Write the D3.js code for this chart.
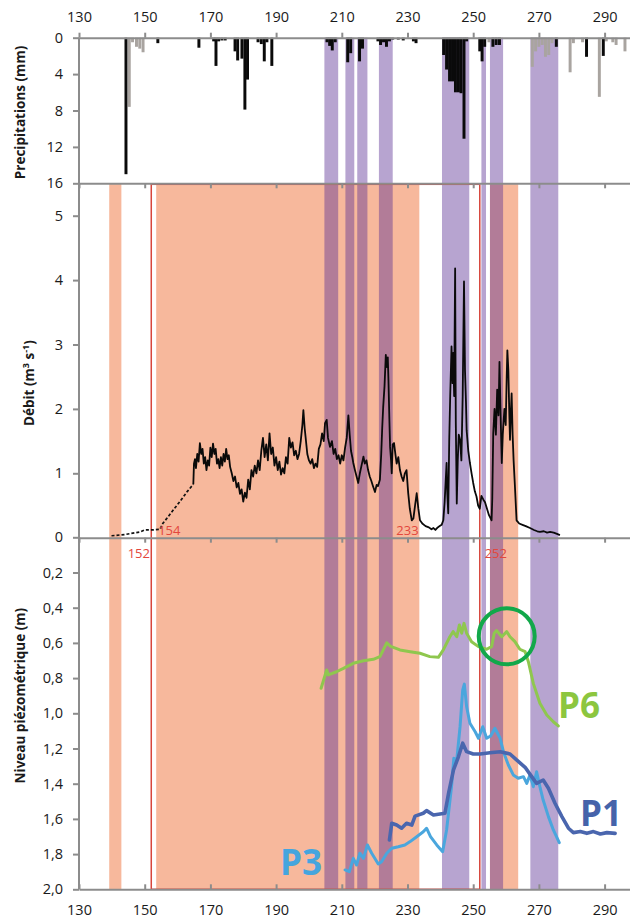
<!DOCTYPE html>
<html><head><meta charset="utf-8">
<script src="https://cdn.jsdelivr.net/npm/d3@7"></script>
<style>
html,body{margin:0;padding:0;background:#fff;}
svg{display:block;font-family:"Open Sans",sans-serif;}
</style></head>
<body><svg id="chart" width="630" height="920"></svg>
<script>
// ---------- DATA ----------
const xTicks = [130,150,170,190,210,230,250,270,290];
const precipTicks = [0,4,8,12,16];
const debitTicks = [1,2,3,4,5];
const niveauTicks = [0,0.2,0.4,0.6,0.8,1.0,1.2,1.4,1.6,1.8,2.0];

// precipitation bars [day, mm]
const precipBlack = [[144.3,15.0],[154,0.6],[166.5,1.1],[171,0.4],[171.7,3.1],[172.5,0.4],[173.5,0.3],[174.5,0.3],
 [177.5,1.5],[178.3,2.5],[179.6,2.3],[180.5,7.9],[181.3,4.6],[184.5,0.5],[185.5,0.7],[186.4,2.6],[187.2,0.5],[188.7,3.1],
 [205.5,0.5],[206.3,0.9],[207.1,1.4],[208,0.5],[211.8,2.7],[212.7,1.7],[215.4,2.6],[216.3,1.2],
 [221,0.4],[221.8,0.8],[222.7,0.5],[223.6,1.0],[224.5,0.4],[225.5,0.2],[227.2,0.2],[228.7,0.3],[231.8,0.4],[232.6,0.6],
 [241,1.9],[241.9,3.5],[242.8,4.8],[243.7,4.8],[244.6,6.0],[245.5,6.0],[246.3,6.1],[247.2,11.1],[248,0.4],
 [252,1.5],[252.7,2.6],[253.5,1.0],[256,1.0],[257,0.8],[258,0.8],[275.3,1.0],[284.5,2.1],[289.6,2.0]];
const precipGray = [[145.3,7.6],[146.3,0.5],[147.5,1.0],[148.5,1.2],[149.5,1.6],[254.8,0.5],
 [268,3.2],[269,1.5],[270,1.0],[271,0.8],[272,2.1],[273,1.9],[274,0.6],[279.5,3.8],[280.5,0.6],[283.3,0.5],
 [288.4,6.5],[290.5,0.4],[292.5,0.5],[293.5,0.8],[296.2,1.5]];

// highlighted periods [startDay, endDay]
const orangeBands = [[139.2,142.9],[153.5,233.6],[255.1,263.7]];
const purpleBands = [[204.7,208.9],[211.1,213.8],[214.7,217.8],[221.3,225.5],[240.5,248.8],[252.5,253.9],[255.1,259.1],[267.4,275.9]];
const redBox = [152,252];

// discharge (m3/s) [day, value]
const debitDashed = [[139.9,0.03],[144,0.05],[148.6,0.09],[150,0.12],[152,0.12],[154.7,0.13],[155.5,0.22],[157.2,0.33],[159,0.45],[161,0.58],[163,0.72],[164.8,0.83]];
const debitSolid = [[164.8,0.83],[165.0,1.15],[165.3,1.22],[165.6,1.08],[166.0,1.30],[166.4,1.18],[166.8,1.47],[167.2,1.30],[167.6,1.38],[168.0,1.15],
 [168.4,1.25],[168.8,1.05],[169.2,1.20],[169.6,1.12],[170.0,1.40],[170.4,1.25],[170.8,1.46],[171.2,1.30],[171.6,1.38],[172.0,1.15],
 [172.4,1.22],[172.8,1.08],[173.2,1.25],[173.6,1.12],[174.0,1.30],[174.4,1.18],[174.8,1.38],[175.2,1.22],[175.6,1.28],[176.0,1.10],
 [176.5,1.00],[177.0,0.88],[177.5,0.95],[178.0,0.78],[178.5,0.85],[179.0,0.68],[179.5,0.75],[180.0,0.56],[180.5,0.70],[181.0,0.62],
 [181.5,0.90],[182.0,0.75],[182.5,1.05],[183.0,0.95],[183.5,1.12],[184.0,1.00],[184.5,1.20],[185.0,1.05],[185.5,1.35],[186.0,1.55],
 [186.5,1.25],[187.0,1.45],[187.5,1.20],[188.0,1.62],[188.5,1.30],[189.0,1.40],[189.5,1.12],[190.0,1.25],[190.5,1.05],[191.0,1.18],
 [191.5,0.98],[192.0,1.08],[192.5,1.00],[193.0,1.25],[193.5,1.15],[194.0,1.55],[194.5,1.40],[195.0,1.48],[195.5,1.28],[196.0,1.35],
 [196.5,1.22],[197.0,1.30],[197.5,1.50],[198.0,1.75],[198.3,1.98],[198.7,1.70],[199.0,1.55],[199.5,1.30],[200.0,1.20],[200.5,1.15],
 [201.0,1.22],[201.5,1.08],[202.0,1.15],[202.5,1.10],[203.0,1.38],[203.5,1.45],[204.0,1.62],[204.5,1.50],[204.9,1.78],[205.4,1.83],
 [205.8,1.55],[206.4,1.41],[207.0,1.50],[207.5,1.30],[208.0,1.38],[208.5,1.22],[209.0,1.28],[209.5,1.15],[210.0,1.28],[210.5,1.20],
 [211.0,1.40],[211.5,1.55],[212.0,1.90],[212.4,1.60],[212.8,1.35],[213.2,1.25],[213.5,1.16],[214.0,1.05],[214.5,0.95],[215.0,0.85],
 [215.5,1.00],[216.0,1.12],[216.6,1.26],[217.0,1.15],[217.5,1.20],[218.0,1.05],[218.5,0.95],[219.0,0.88],[219.5,0.80],[220.1,0.71],
 [220.6,0.82],[221.0,0.80],[221.6,0.90],[222.0,1.30],[222.3,1.70],[222.6,2.03],[223.0,2.35],[223.4,2.84],[223.7,2.65],[224.0,2.80],
 [224.2,2.45],[224.5,1.80],[224.7,1.41],[225.0,1.20],[225.2,1.00],[225.5,1.45],[225.9,1.47],[226.3,1.30],[226.7,1.15],[227.2,1.25],
 [227.7,1.05],[228.2,0.95],[228.7,0.88],[229.2,1.00],[229.7,1.05],[230.2,0.70],[230.7,0.45],[231.3,0.27],[231.8,0.30],[232.3,0.50],
 [232.8,0.69],[233.3,0.45],[233.8,0.27],[234.5,0.22],[235.5,0.18],[236.5,0.16],[237.3,0.13],[237.9,0.15],[238.5,0.12],[239.2,0.16],
 [239.8,0.18],[240.4,0.20],[240.9,0.27],[241.3,0.55],[241.9,1.16],[242.1,0.70],[242.4,0.38],[242.7,1.50],[243.0,2.20],[243.4,2.97],
 [243.7,2.40],[243.9,2.87],[244.2,2.20],[244.5,4.18],[244.7,1.80],[245.0,0.53],[245.3,1.20],[245.6,1.60],[246.0,1.52],[246.4,1.20],
 [246.8,2.20],[247.2,3.98],[247.5,2.60],[247.8,2.10],[248.0,1.67],[248.5,1.35],[249.0,1.16],[249.5,1.00],[250.0,0.85],[250.5,0.72],
 [251.0,0.64],[251.5,0.50],[252.0,0.45],[252.5,0.65],[253.1,0.59],[253.6,0.55],[254.2,0.45],[254.8,0.35],[255.3,0.30],[255.6,0.27],
 [255.8,0.60],[256.1,1.62],[256.5,2.00],[256.9,1.60],[257.3,2.30],[257.7,1.90],[258.0,2.73],[258.3,2.00],[258.7,1.16],[259.0,1.60],
 [259.5,2.00],[259.9,1.75],[260.2,2.50],[260.4,2.91],[260.7,2.60],[261.0,1.90],[261.2,1.52],[261.5,2.00],[261.7,2.24],[262.0,1.60],
 [262.3,1.20],[262.7,0.80],[263.2,0.27],[264,0.22],[265,0.20],[266,0.18],[267.3,0.15],[268.5,0.12],[269.5,0.10],[270.3,0.09],
 [271.5,0.10],[272.5,0.08],[273.4,0.09],[274.5,0.08],[275.5,0.06],[276.4,0.04]];

// piezometric levels (m) [day, level]
const p6 = [[203.7,0.858],[205.4,0.754],[205.9,0.782],[208.4,0.764],[210.5,0.745],[213.5,0.716],[216.6,0.701],[219.6,0.693],[221.6,0.678],
 [223.7,0.599],[224.7,0.618],[227.7,0.640],[230.8,0.650],[233.8,0.659],[236.8,0.678],[239.4,0.682],[240.9,0.640],[242.9,0.565],[243.9,0.536],
 [245.0,0.565],[245.8,0.498],[246.5,0.545],[247.2,0.489],[248.0,0.545],[249.5,0.593],[251.6,0.621],[254.1,0.636],[255.6,0.621],[256.4,0.545],
 [257.1,0.530],[258.7,0.565],[260.2,0.536],[261.2,0.565],[262.7,0.593],[264.2,0.636],[265.8,0.650],[266.8,0.707],[268.3,0.830],[270.3,0.943],
 [272.4,1.010],[274.4,1.048],[275.9,1.072]];
const p1 = [[224.5,1.720],[225.2,1.625],[226.7,1.635],[228.2,1.653],[229.7,1.625],[231.3,1.635],[232.3,1.584],[234.8,1.568],[235.8,1.553],
 [237.9,1.578],[241.4,1.568],[242.5,1.455],[244.0,1.322],[245.5,1.247],[246.8,1.170],[248.0,1.218],[250.0,1.231],[252.1,1.231],[255.1,1.224],
 [258.2,1.218],[261.2,1.231],[263.2,1.265],[265.8,1.307],[267.8,1.360],[269.3,1.398],[271.3,1.379],[272.9,1.426],[274.9,1.511],[277.0,1.587],
 [279.0,1.653],[280.5,1.678],[282.6,1.672],[284.6,1.682],[286.6,1.672],[288.7,1.686],[290.7,1.678],[293.2,1.682]];
const p3 = [[211.0,1.890],[212.3,1.900],[213.5,1.824],[214.5,1.862],[215.5,1.795],[216.6,1.824],[217.8,1.748],[219.1,1.795],[221.1,1.856],
 [222.1,1.843],[223.7,1.795],[225.2,1.767],[227.2,1.758],[229.2,1.748],[230.8,1.729],[232.8,1.701],[234.8,1.673],[235.8,1.653],[237.0,1.701],
 [238.9,1.748],[240.7,1.786],[241.9,1.663],[243.4,1.417],[244.1,1.256],[245.0,1.265],[246.0,1.076],[246.8,0.868],[247.3,0.834],[248.0,0.963],
 [249.0,1.057],[250.6,1.105],[251.6,1.142],[252.9,1.076],[254.1,1.142],[255.3,1.129],[256.6,1.085],[258.2,1.142],[259.2,1.218],[260.7,1.294],
 [262.2,1.350],[263.7,1.369],[265.3,1.360],[266.3,1.398],[267.3,1.350],[268.3,1.417],[269.3,1.332],[270.3,1.417],[271.3,1.493],[272.9,1.587],
 [274.4,1.663],[276.2,1.735]];

// annotations
const seriesLabels = [{t:"P6",day:275.8,lvl:1.026,c:"#8cc63f"},{t:"P1",day:282.5,lvl:1.643,c:"#4563aa"},{t:"P3",day:191.2,lvl:1.918,c:"#45a5de"}];
const redLabels = [{t:"154",day:154.1,q:0.04,panel:"Q",anchor:"start"},{t:"233",day:233.4,q:0.04,panel:"Q",anchor:"end"},
 {t:"152",day:151.6,q:0.118,panel:"N",anchor:"end"},{t:"252",day:253.5,q:0.118,panel:"N",anchor:"start"}];
const circleMark = {day:260.2,lvl:0.5625};

// ---------- SCALES ----------
const svg = d3.select("#chart");
const x = d3.scaleLinear().domain([130,300]).range([79,637.45]);
const yP = d3.scaleLinear().domain([0,16]).range([37.7,183.3]);
const yQ = d3.scaleLinear().domain([0,5]).range([537.7,215.7]);
const yN = d3.scaleLinear().domain([0,2]).range([537.3,889.3]);
const top0 = yP(0), mid1 = yP(16), mid2 = yQ(0), bot = yN(2);
const axisCol = "#8c8c8c";

svg.append("defs").append("clipPath").attr("id","plot")
  .append("rect").attr("x",x(130)).attr("y",0).attr("width",630-x(130)).attr("height",920);
const plot = svg.append("g").attr("clip-path","url(#plot)");

// bands
plot.selectAll("rect.or").data(orangeBands).join("rect").attr("class","or")
  .attr("x",d=>x(d[0])).attr("width",d=>x(d[1])-x(d[0]))
  .attr("y",mid1).attr("height",bot-mid1).attr("fill","#f7b89c");
plot.selectAll("rect.pu").data(purpleBands).join("rect").attr("class","pu")
  .attr("x",d=>x(d[0])).attr("width",d=>x(d[1])-x(d[0]))
  .attr("y",top0).attr("height",bot-top0).attr("fill","#5a2f94").attr("fill-opacity",0.44);

// red box
plot.append("rect").attr("x",x(redBox[0])).attr("width",x(redBox[1])-x(redBox[0]))
  .attr("y",mid1+1).attr("height",bot-mid1-1).attr("fill","none").attr("stroke","#d7463c").attr("stroke-width",1.5);

// precipitation bars
function bars(data,col){
  plot.append("g").selectAll("rect").data(data).join("rect")
   .attr("x",d=>x(d[0]-0.45)).attr("width",d=>x(d[0]+0.45)-x(d[0]-0.45))
   .attr("y",yP(0)).attr("height",d=>yP(d[1])-yP(0)).attr("fill",col);
}
bars(precipGray,"#a9a4a0");
bars(precipBlack,"#0a0a0a");

// ---------- AXES ----------
function styleAxis(g){
  g.selectAll("path.domain").attr("stroke",axisCol).attr("stroke-width",2);
  g.selectAll(".tick line").attr("stroke",axisCol).attr("stroke-width",2);
  g.selectAll("text").attr("fill","#1a1a1a").style("font-size","14.5px").style("font-family","'Open Sans',sans-serif");
}
const axTop = svg.append("g").attr("transform",`translate(0,${top0})`)
  .call(d3.axisTop(x).tickValues(xTicks).tickSizeInner(5).tickSizeOuter(0).tickPadding(11).tickFormat(d3.format("d")));
styleAxis(axTop);
[mid1,mid2].forEach(yy=>{
  const g = svg.append("g").attr("transform",`translate(0,${yy})`)
   .call(d3.axisBottom(x).tickValues(xTicks).tickSizeInner(5).tickSizeOuter(0).tickFormat(""));
  styleAxis(g);
});
const axBot = svg.append("g").attr("transform",`translate(0,${bot})`)
  .call(d3.axisBottom(x).tickValues(xTicks).tickSizeInner(-5).tickSizeOuter(0).tickPadding(15).tickFormat(d3.format("d")));
styleAxis(axBot);

// left vertical axis line
svg.append("line").attr("x1",x(130)).attr("x2",x(130)).attr("y1",top0).attr("y2",bot)
  .attr("stroke",axisCol).attr("stroke-width",2);
function leftAxis(scale,ticks,fmt){
  const g = svg.append("g").attr("transform",`translate(${x(130)},0)`)
    .call(d3.axisLeft(scale).tickValues(ticks).tickSizeInner(6).tickSizeOuter(0).tickPadding(10).tickFormat(fmt));
  g.select("path.domain").remove();
  styleAxis(g);
}
leftAxis(yP,precipTicks,d3.format("d"));
leftAxis(yQ,debitTicks,d3.format("d"));
leftAxis(yN,niveauTicks,d=> d===0 ? "0" : d3.format(".1f")(d).replace(".",","));

// axis titles
const titleStyle = t=>t.attr("font-weight","bold").style("font-size","13.5px").attr("fill","#1a1a1a").attr("text-anchor","middle");
svg.append("text").attr("transform",`translate(25,${(yP(0)+yP(16))/2+2}) rotate(-90)`).text("Precipitations (mm)").call(titleStyle);
const dt = svg.append("text").attr("transform",`translate(34,${yQ(2.4)}) rotate(-90)`).call(titleStyle);
dt.append("tspan").text("Débit (m");
dt.append("tspan").attr("dy",-5).style("font-size","9px").text("3");
dt.append("tspan").attr("dy",5).text(" s");
dt.append("tspan").attr("dy",-5).style("font-size","9px").text("-1");
dt.append("tspan").attr("dy",5).text(")");
svg.append("text").attr("transform",`translate(25,${yN(0.9)}) rotate(-90)`).text("Niveau piézométrique (m)").call(titleStyle);

// ---------- LINES ----------
const lineQ = d3.line().x(d=>x(d[0])).y(d=>yQ(d[1]));
plot.append("path").datum(debitDashed).attr("d",lineQ).attr("fill","none")
  .attr("stroke","#111").attr("stroke-width",1.7).attr("stroke-dasharray","3,2");
plot.append("path").datum(debitSolid).attr("d",lineQ).attr("fill","none")
  .attr("stroke","#0a0a0a").attr("stroke-width",1.8).attr("stroke-linejoin","round");

const lineN = d3.line().x(d=>x(d[0])).y(d=>yN(d[1]));
[[p6,"#8fc74e",3],[p3,"#4aa6dd",3],[p1,"#4a66ae",3.6]].forEach(([data,col,w])=>{
  plot.append("path").datum(data).attr("d",lineN).attr("fill","none")
   .attr("stroke",col).attr("stroke-width",w).attr("stroke-linejoin","round").attr("stroke-linecap","round");
});

// circle annotation
plot.append("circle").attr("cx",x(circleMark.day)).attr("cy",yN(circleMark.lvl)).attr("r",28)
  .attr("fill","none").attr("stroke","#12a84a").attr("stroke-width",4);

// series labels
svg.selectAll("text.sl").data(seriesLabels).join("text").attr("class","sl")
  .attr("x",d=>x(d.day)).attr("y",d=>yN(d.lvl)).text(d=>d.t)
  .attr("fill",d=>d.c).attr("font-weight","bold").style("font-size","35px").style("font-family","'Open Sans',sans-serif");

// red day labels
svg.selectAll("text.rl").data(redLabels).join("text").attr("class","rl")
  .attr("x",d=>x(d.day)).attr("y",d=> d.panel==="Q" ? yQ(d.q) : yN(d.q)).text(d=>d.t)
  .attr("text-anchor",d=>d.anchor).attr("fill","#e3473d").style("font-size","13px");
</script></body></html>
